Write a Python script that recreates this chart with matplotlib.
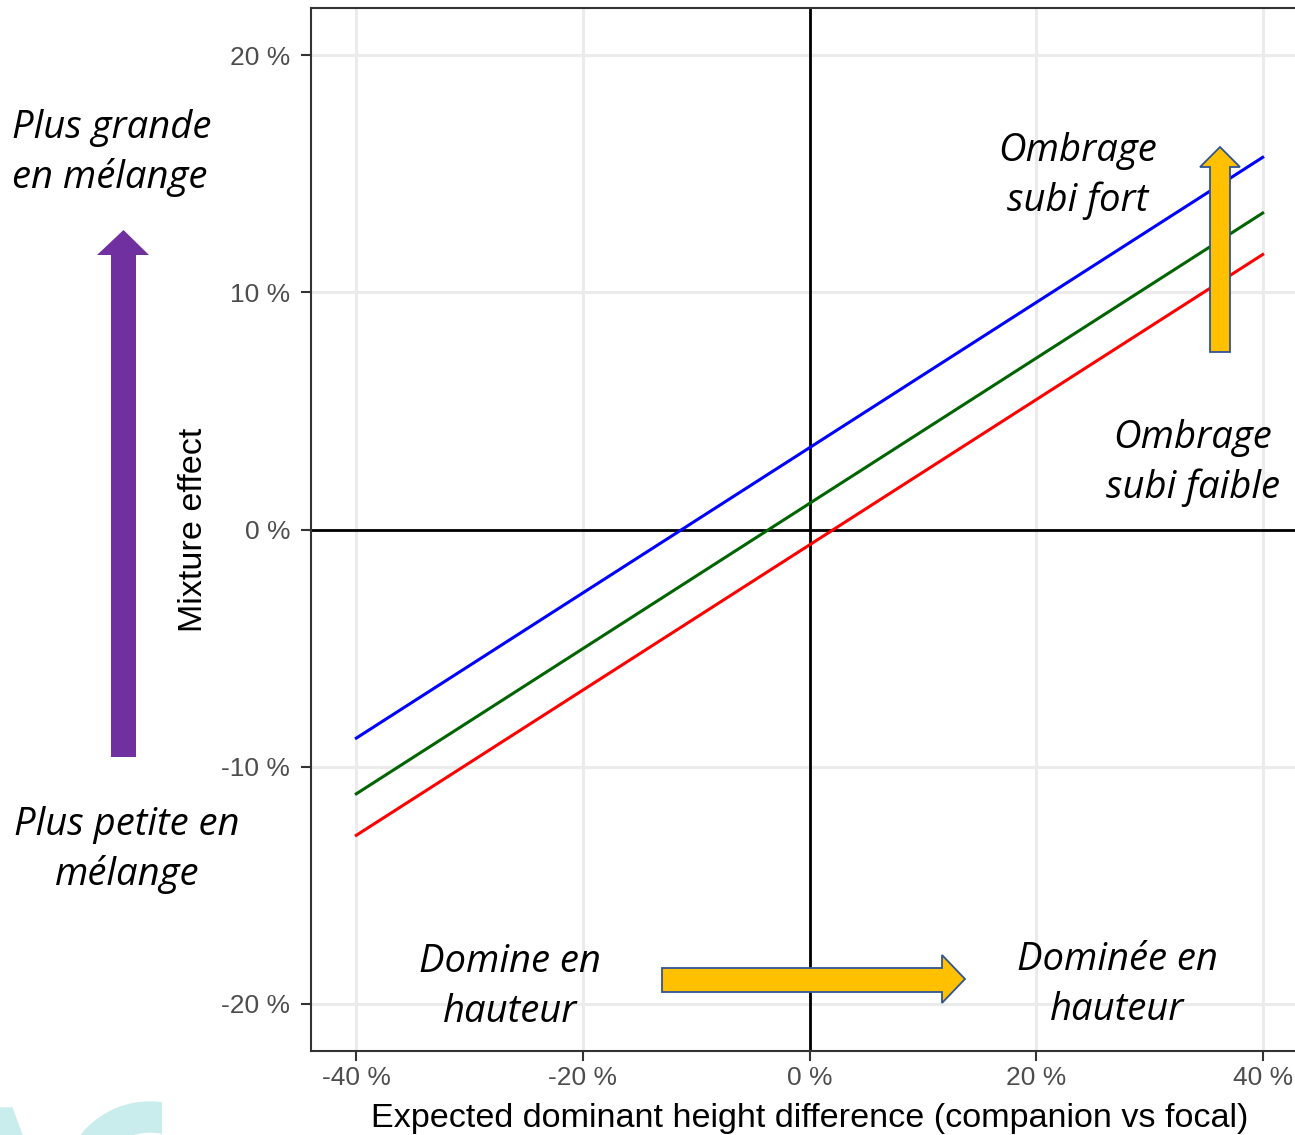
import matplotlib
matplotlib.use("Agg")
import matplotlib.pyplot as plt
from matplotlib.patches import Polygon, Wedge

# Datos (extremos de cada recta, en %)
x_ends = [-40, 40]
azul = [-8.8, 15.7]
verde = [-11.15, 13.35]
rojo = [-12.9, 11.6]

x_ticks = [-40, -20, 0, 20, 40]
x_labels = ["-40 %", "-20 %", "0 %", "20 %", "40 %"]
y_ticks = [-20, -10, 0, 10, 20]
y_labels = ["-20 %", "-10 %", "0 %", "10 %", "20 %"]

W, H = 1295, 1135
fig = plt.figure(figsize=(W / 100, H / 100), dpi=100)


def px(x, y):
    # pixel (desde arriba a la izquierda) -> fraccion de figura
    return (x / W, 1 - y / H)


# marca de agua cian abajo a la izquierda
cian = "#C9ECEC"
fig.patches.append(Polygon([px(0, 1108), px(12, 1108), px(22, 1135), px(0, 1135)],
                           closed=True, transform=fig.transFigure, color=cian, zorder=0))
ax_bg = fig.add_axes([0, 0, 162 / W, 1 - 1100 / H])
ax_bg.set_xlim(0, 162)
ax_bg.set_ylim(1135, 1100)
ax_bg.axis("off")
ax_bg.add_patch(Wedge((150, 1190), 88, 0, 360, width=30, color=cian))

# Grafico principal
ax = fig.add_axes([311 / W, 1 - 1051 / H, 997 / W, 1043 / H])
ax.plot(x_ends, azul, color="#0000FF", lw=2.2, zorder=3)
ax.plot(x_ends, verde, color="#006400", lw=2.2, zorder=3)
ax.plot(x_ends, rojo, color="#FF0000", lw=2.2, zorder=3)
ax.axhline(0, color="black", lw=2, zorder=2)
ax.axvline(0, color="black", lw=2, zorder=2)

ax.set_xlim(-44, 44)
ax.set_ylim(-22, 22)
ax.set_xticks(x_ticks)
ax.set_xticklabels(x_labels)
ax.set_yticks(y_ticks)
ax.set_yticklabels(y_labels)
ax.grid(True, color="#EBEBEB", lw=2.2, zorder=0)
ax.set_axisbelow(True)
for s in ax.spines.values():
    s.set_color("#333333")
    s.set_linewidth(1.5)
ax.tick_params(axis="both", length=7, width=1.5, color="#333333",
               labelcolor="#4D4D4D", labelsize=19, labelfontfamily="Liberation Sans")
ax.tick_params(axis="x", pad=4)
ax.tick_params(axis="y", pad=8)
ax.set_xlabel("Expected dominant height difference (companion vs focal)",
              fontsize=24.6, family="Liberation Sans", labelpad=9)
ax.set_ylabel("Mixture effect", fontsize=24.6, family="Liberation Sans", labelpad=9)

# Textos en cursiva
estilo = dict(fontsize=27.5, family="Open Sans", style="italic", color="black",
              linespacing=1.39, transform=fig.transFigure, va="center")
fig.text(*px(12, 153), "Plus grande\nen mélange", ha="left", **estilo)
fig.text(*px(127, 850), "Plus petite en\nmélange", ha="center", **estilo)
fig.text(*px(1078, 176), "Ombrage\nsubi fort", ha="center", **estilo)
fig.text(*px(1193, 463), "Ombrage\nsubi faible", ha="center", **estilo)
fig.text(*px(510, 987), "Domine en\nhauteur", ha="center", **estilo)
fig.text(*px(1117, 985), "Dominée en\nhauteur", ha="center", **estilo)

# Flechas
morado = [px(111, 757), px(136, 757), px(136, 255), px(149, 255), px(123.5, 230),
          px(97, 255), px(111, 255)]
fig.patches.append(Polygon(morado, closed=True, transform=fig.transFigure,
                           facecolor="#7030A0", edgecolor="none", zorder=5))
amarillo_v = [px(1210, 352), px(1230, 352), px(1230, 167), px(1240, 167), px(1220, 147),
              px(1200, 167), px(1210, 167)]
fig.patches.append(Polygon(amarillo_v, closed=True, transform=fig.transFigure,
                           facecolor="#FFC000", edgecolor="#2F5597", lw=1.3, zorder=5))
amarillo_h = [px(662, 968), px(942, 968), px(942, 955), px(965, 979), px(942, 1003),
              px(942, 992), px(662, 992)]
fig.patches.append(Polygon(amarillo_h, closed=True, transform=fig.transFigure,
                           facecolor="#FFC000", edgecolor="#2F5597", lw=1.3, zorder=5))

plt.savefig("out.png", dpi=100)
